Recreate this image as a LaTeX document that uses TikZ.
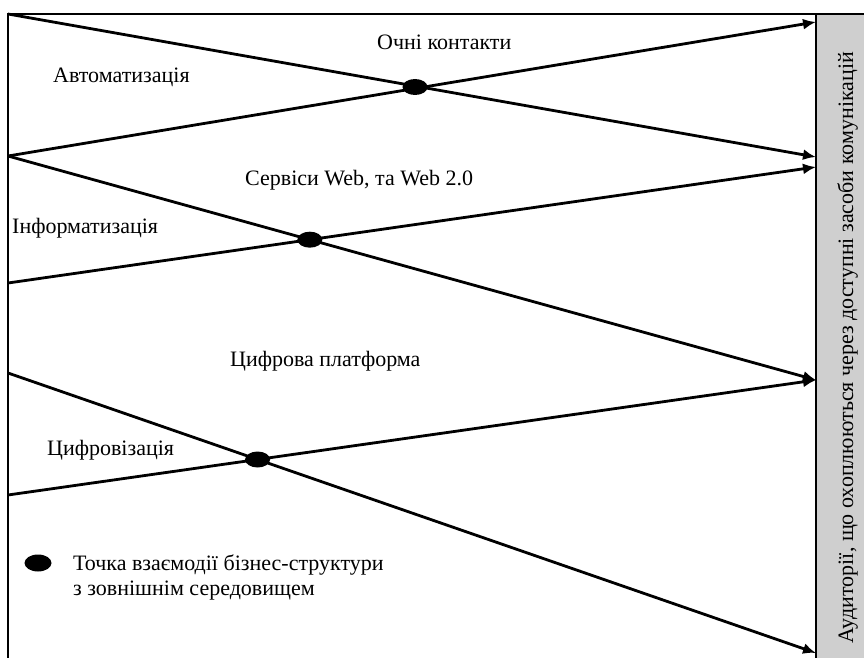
\documentclass[tikz,border=0pt]{standalone}
\usepackage{fontspec}
\setmainfont{Liberation Serif}
\usetikzlibrary{arrows.meta,shapes.geometric}
\begin{document}
\begin{tikzpicture}[x=1pt,y=-1pt,
  frame/.style={line width=2.9pt},
  flow/.style={line width=2.8pt,-{Latex[length=13pt,width=11pt]}},
  dot/.style={ellipse,fill=black,inner sep=0pt,minimum width=25pt,minimum height=16pt},
  lbl/.style={anchor=base west,inner sep=0pt,font=\fontsize{22}{25}\selectfont},
]
\useasboundingbox (0,0) rectangle (864,658);
% side bar
\fill[black!19] (816,14) rectangle (864,658);
\draw[frame] (816,14) -- (816,658);
\draw[frame] (8,658) -- (8,14) -- (864,14);
% end points
\coordinate (a1) at (8,14);
\coordinate (m1) at (8,156);
\coordinate (a4) at (8,283);
\coordinate (a5) at (8,373);
\coordinate (a6) at (8,495);
\coordinate (b1) at (816,157);
\coordinate (b2) at (816,22);
\coordinate (m2) at (816,380);
\coordinate (b4) at (816,167);
\coordinate (b5) at (816,653);
% connectors
\draw[flow] (a1) -- (b1);
\draw[flow] (m1) -- (b2);
\draw[flow] (m1) -- (m2);
\draw[flow] (a4) -- (b4);
\draw[flow] (a5) -- (b5);
\draw[flow] (a6) -- (m2);
% interaction points
\node[dot] (p1) at (415,87) {};
\node[dot] (p2) at (intersection of m1--m2 and a4--b4) {};
\node[dot] (p3) at (intersection of a5--b5 and a6--m2) {};
% labels
\node[lbl] (t1) at (53,83) {Автоматизація};
\node[lbl] (t2) at (377,50) {Очні контакти};
\node[lbl] (t3) at (245,185) {Сервіси Web, та Web 2.0};
\node[lbl] (t4) at (12,233) {Інформатизація};
\node[lbl] (t5) at (230,366) {Цифрова платформа};
\node[lbl] (t6) at (47,455) {Цифровізація};
% legend
\node[dot,minimum width=27pt,minimum height=17pt] (ld) at (38,563) {};
\node[lbl] (lt1) at (73,570) {Точка взаємодії бізнес-структури};
\node[lbl] (lt2) at (73,595) {з зовнішнім середовищем};
% side text
\node[rotate=90,anchor=base,inner sep=0pt,font=\fontsize{22}{25}\selectfont] (aud) at (853,348) {Аудиторії, що охоплюються через доступні засоби комунікацій};
\end{tikzpicture}
\end{document}
